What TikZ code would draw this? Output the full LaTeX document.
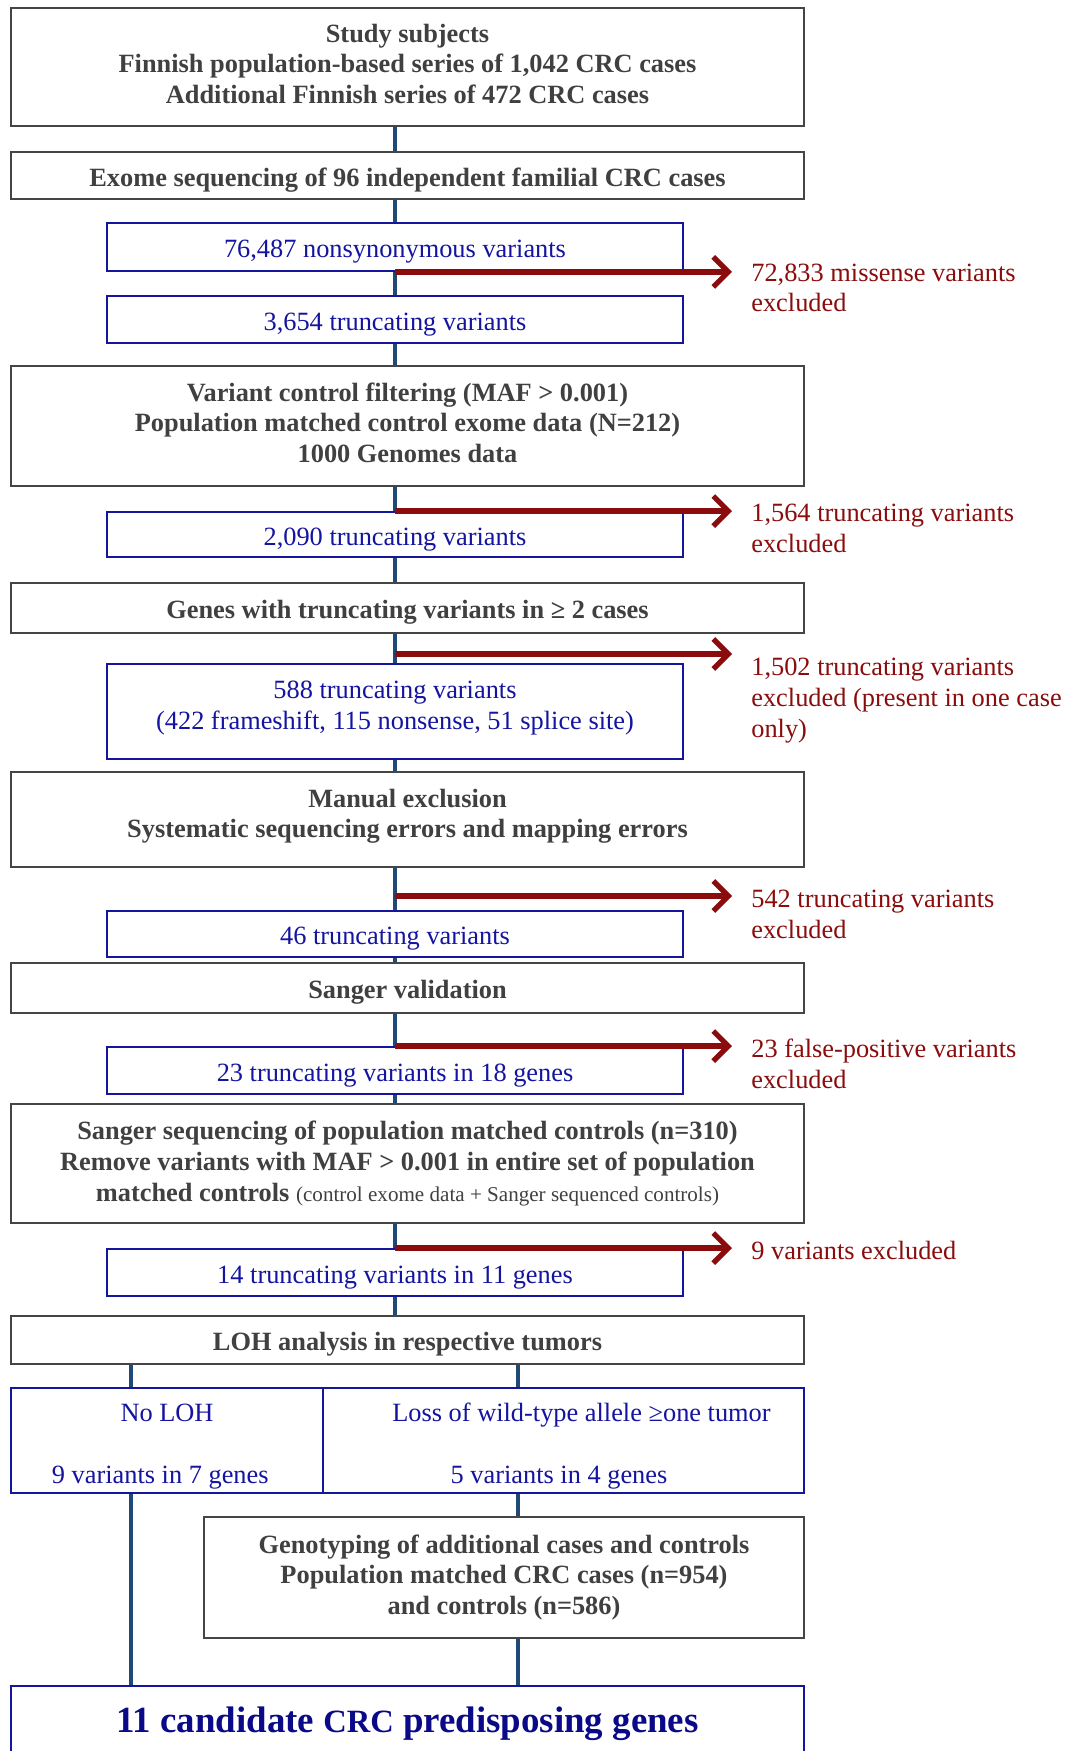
\documentclass[tikz,border=0pt]{standalone}
\usepackage{fontspec}
\setmainfont{Liberation Serif}
\usetikzlibrary{arrows.meta, backgrounds, calc}
\definecolor{clSTAGE}{HTML}{404040}
\definecolor{bSTAGE} {HTML}{454545}
\definecolor{clCOUNT}{HTML}{1414A0}
\definecolor{bCOUNT} {HTML}{16169C}
\definecolor{clFINAL}{HTML}{0A0A88}
\definecolor{clEXCL} {HTML}{8A0C0C}
\definecolor{bSPINE} {HTML}{1F4A78}

\begin{document}
\begin{tikzpicture}[
    every node/.style={font=\fontsize{15}{17.5}\selectfont},
    stage/.style={
        draw=bSTAGE, fill=white, line width=1.1pt,
        minimum width=15.86cm, align=center, inner sep=0pt,
        text=clSTAGE, font=\fontsize{15}{17.5}\selectfont\bfseries
    },
    count/.style={
        draw=bCOUNT, fill=white, line width=1.1pt,
        minimum width=11.52cm, align=center, inner sep=0pt,
        text=clCOUNT
    },
    oneline/.style={text height=15.5pt, text depth=3.5pt},
    note/.style={text=clEXCL, align=left, anchor=base west, inner sep=0pt},
    spine/.style={draw=bSPINE, line width=2.4pt},
    excl/.style={-{Straight Barb[length=0.3cm, width=0.6cm]},
        draw=clEXCL, line width=3pt, shorten >=0.38cm}
]

\useasboundingbox (0,0) rectangle (21.54,-35.02);
\clip (0,0) rectangle (21.54,-35.02);

% ── BACKGROUND ─────────────────────────────────────────────────
\begin{scope}[on background layer]
    \fill[white] (0,0) rectangle (21.54,-35.02);
\end{scope}

% === MAIN COLUMN ===
\node[stage, minimum height=2.36cm, text depth=3.8pt]
    (study) at (8.15, -1.34)
    {Study subjects\\Finnish population-based series of 1,042 CRC cases\\Additional Finnish series of 472 CRC cases};

\node[stage, oneline, minimum height=0.94cm]
    (exome) at (8.15, -3.51)
    {Exome sequencing of 96 independent familial CRC cases};

\node[count, oneline, minimum height=0.96cm]
    (nonsyn) at (7.9, -4.94)
    {76,487 nonsynonymous variants};

\node[count, oneline, minimum height=0.94cm]
    (trunc1) at (7.9, -6.39)
    {3,654 truncating variants};

\node[stage, minimum height=2.40cm, text depth=3.8pt]
    (filter) at (8.15, -8.52)
    {Variant control filtering (MAF > 0.001)\\Population matched control exome data (N=212)\\1000 Genomes data};

\node[count, oneline, minimum height=0.90cm]
    (trunc2) at (7.9, -10.69)
    {2,090 truncating variants};

\node[stage, oneline, minimum height=1.00cm]
    (genes) at (8.15, -12.16)
    {Genes with truncating variants in ≥ 2 cases};

\node[count, minimum height=1.90cm, text depth=7pt]
    (trunc3) at (7.9, -14.23)
    {588 truncating variants\\(422 frameshift, 115 nonsense, 51 splice site)};

\node[stage, minimum height=1.90cm, text depth=7.1pt]
    (manual) at (8.15, -16.39)
    {Manual exclusion\\Systematic sequencing errors and mapping errors};

\node[count, oneline, minimum height=0.92cm]
    (trunc4) at (7.9, -18.68)
    {46 truncating variants};

\node[stage, oneline, minimum height=1.00cm]
    (sval) at (8.15, -19.76)
    {Sanger validation};

\node[count, oneline, minimum height=0.94cm]
    (trunc5) at (7.9, -21.41)
    {23 truncating variants in 18 genes};

\node[stage, minimum height=2.38cm]
    (sseq) at (8.15, -23.27)
    {Sanger sequencing of population matched controls (n=310)\\Remove variants with MAF > 0.001 in entire set of population\\matched controls {\mdseries\fontsize{12}{14}\selectfont (control exome data + Sanger sequenced controls)}};

\node[count, oneline, minimum height=0.94cm]
    (trunc6) at (7.9, -25.45)
    {14 truncating variants in 11 genes};

\node[stage, oneline, minimum height=0.96cm]
    (loh) at (8.15, -26.80)
    {LOH analysis in respective tumors};

% === LOH BRANCHES ===
\node[count, minimum width=6.24cm, minimum height=2.10cm]
    (noloh) at (3.34, -28.81)
    {\rule{0pt}{17pt}No LOH\\[17.5pt]9 variants in 7 genes\hspace*{0.27cm}};

\node[count, minimum width=9.62cm, minimum height=2.10cm]
    (lossbox) at (11.27, -28.81)
    {\rule{0pt}{17pt}\hspace*{0.72cm}Loss of wild-type allele ≥one tumor\\[17.5pt]5 variants in 4 genes\hspace*{0.18cm}};

\node[stage, minimum width=12.0cm, minimum height=2.42cm]
    (geno) at (10.08, -31.55)
    {Genotyping of additional cases and controls\\Population matched CRC cases (n=954)\\and controls (n=586)};

\node[stage, draw=bCOUNT, text=clFINAL, minimum height=1.52cm,
      font=\fontsize{21}{25}\selectfont\bfseries]
    (final) at (8.15, -34.48)
    {11 candidate {\fontsize{18.5}{22}\selectfont CRC} predisposing genes};

% === EXCLUSION NOTES ===
\node[note] (note1) at (15.02, -6.24)  {72,833 missense variants\\excluded};
\node[note] (note2) at (15.02, -11.04) {1,564 truncating variants\\excluded};
\node[note] (note3) at (15.02, -14.74) {1,502 truncating variants\\excluded (present in one case\\only)};
\node[note] (note4) at (15.02, -18.76) {542 truncating variants\\excluded};
\node[note] (note5) at (15.02, -21.76) {23 false-positive variants\\excluded};
\node[note] (note6) at (15.02, -25.18) {9 variants excluded};

\coordinate (cut3) at (7.9, -13.08);
\coordinate (cut4) at (7.9, -17.92);
\coordinate (lohL) at (2.62, 0);
\coordinate (lohR) at (10.36, 0);

% ── CONNECTORS ─────────────────────────────────────────────────
\begin{scope}[on background layer]
    % main spine
    \foreach \a/\b in {study/exome, exome/nonsyn, nonsyn/trunc1, trunc1/filter,
                       filter/trunc2, trunc2/genes, genes/trunc3, trunc3/manual,
                       manual/trunc4, trunc4/sval, sval/trunc5, trunc5/sseq,
                       sseq/trunc6, trunc6/loh}
        \draw[spine] (\a.south -| nonsyn.center) -- (\b.north -| nonsyn.center);

    % LOH split
    \draw[spine] (loh.south -| lohL) -- (noloh.north -| lohL);
    \draw[spine] (loh.south -| lohR) -- (lossbox.north -| lohR);
    \draw[spine] (noloh.south -| lohL) -- (final.north -| lohL);
    \draw[spine] (lossbox.south -| lohR) -- (geno.north -| lohR);
    \draw[spine] (geno.south -| lohR) -- (final.north -| lohR);
\end{scope}

% Exclusion arrows
\draw[excl] (nonsyn.south) -- (note1.west |- nonsyn.south);
\draw[excl] (trunc2.north) -- (note2.west |- trunc2.north);
\draw[excl] (cut3) -- (note3.west |- cut3);
\draw[excl] (cut4) -- (note4.west |- cut4);
\draw[excl] (trunc5.north) -- (note5.west |- trunc5.north);
\draw[excl] (trunc6.north) -- (note6.west |- trunc6.north);

\end{tikzpicture}
\end{document}
